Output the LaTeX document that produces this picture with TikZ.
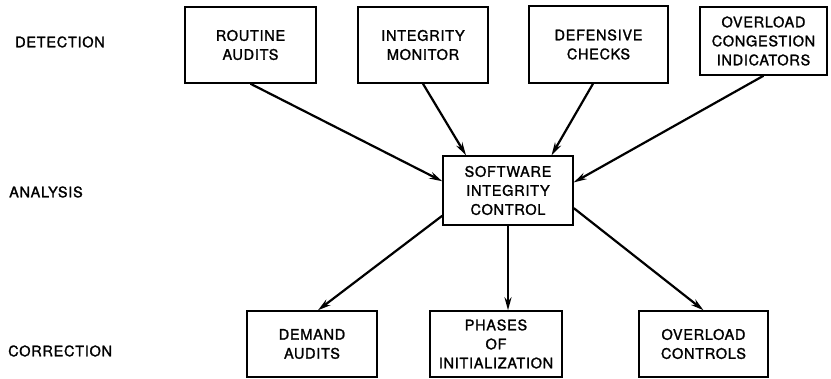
\documentclass[tikz,border=0pt]{standalone}
\usepackage{fontspec}
\setmainfont{TeX Gyre Heros}[LetterSpace=5, FakeBold=1.5]
\usetikzlibrary{arrows.meta,positioning}

\begin{document}
\begin{tikzpicture}[x=1pt, y=-1pt,
    stage/.style={anchor=west, inner sep=0pt, font=\fontsize{14.5}{19}\selectfont},
    unit/.style={rectangle, draw=black, line width=1.5pt, minimum width=130pt, minimum height=76pt, align=center, inner sep=0pt, font=\fontsize{14.5}{19}\selectfont},
    flow/.style={line width=2.2pt, -{Stealth[length=13pt, width=7pt]}}
]
\useasboundingbox (0,0) rectangle (831,378);

% Stages
\node [stage] (detection) at (15,42) {DETECTION};
\node [stage] (analysis) at (9,192) {ANALYSIS};
\node [stage] (correction) at (8,351) {CORRECTION};

% Detection
\node [unit, minimum width=131pt] (routine) at (250.5,45) {ROUTINE\\AUDITS};
\node [unit] (monitor) at (423,45) {INTEGRITY\\MONITOR};
\node [unit, minimum width=139pt, minimum height=77pt] (defensive) at (598.5,44.5) {DEFENSIVE\\CHECKS};
\node [unit, minimum width=127pt, minimum height=68pt] (congestion) at (763.5,41) {OVERLOAD\\CONGESTION\\INDICATORS};

% Analysis
\node [unit, minimum height=69pt] (software) at (508,190.5) {SOFTWARE\\INTEGRITY\\CONTROL};

% Correction
\node [unit, minimum height=66pt] (demand) at (312,344) {DEMAND\\AUDITS};
\node [unit, minimum width=132pt, minimum height=66pt] (phases) at (496,344) {PHASES\\OF\\INITIALIZATION};
\node [unit, minimum width=129pt, minimum height=66pt] (controls) at (703.5,344) {OVERLOAD\\CONTROLS};

% Arrows
\draw [flow] (routine.south) -- (software.172);
\draw [flow] (monitor.south) -- (software.140);
\draw [flow] (defensive.262) -- (software.39);
\draw [flow] (congestion.south) -- (software.7);
\draw [flow] (software.201) -- (demand.80);
\draw [flow] (software.south) -- (software.south |- phases.north);
\draw [flow] (software.345) -- (controls.north);

\end{tikzpicture}
\end{document}
